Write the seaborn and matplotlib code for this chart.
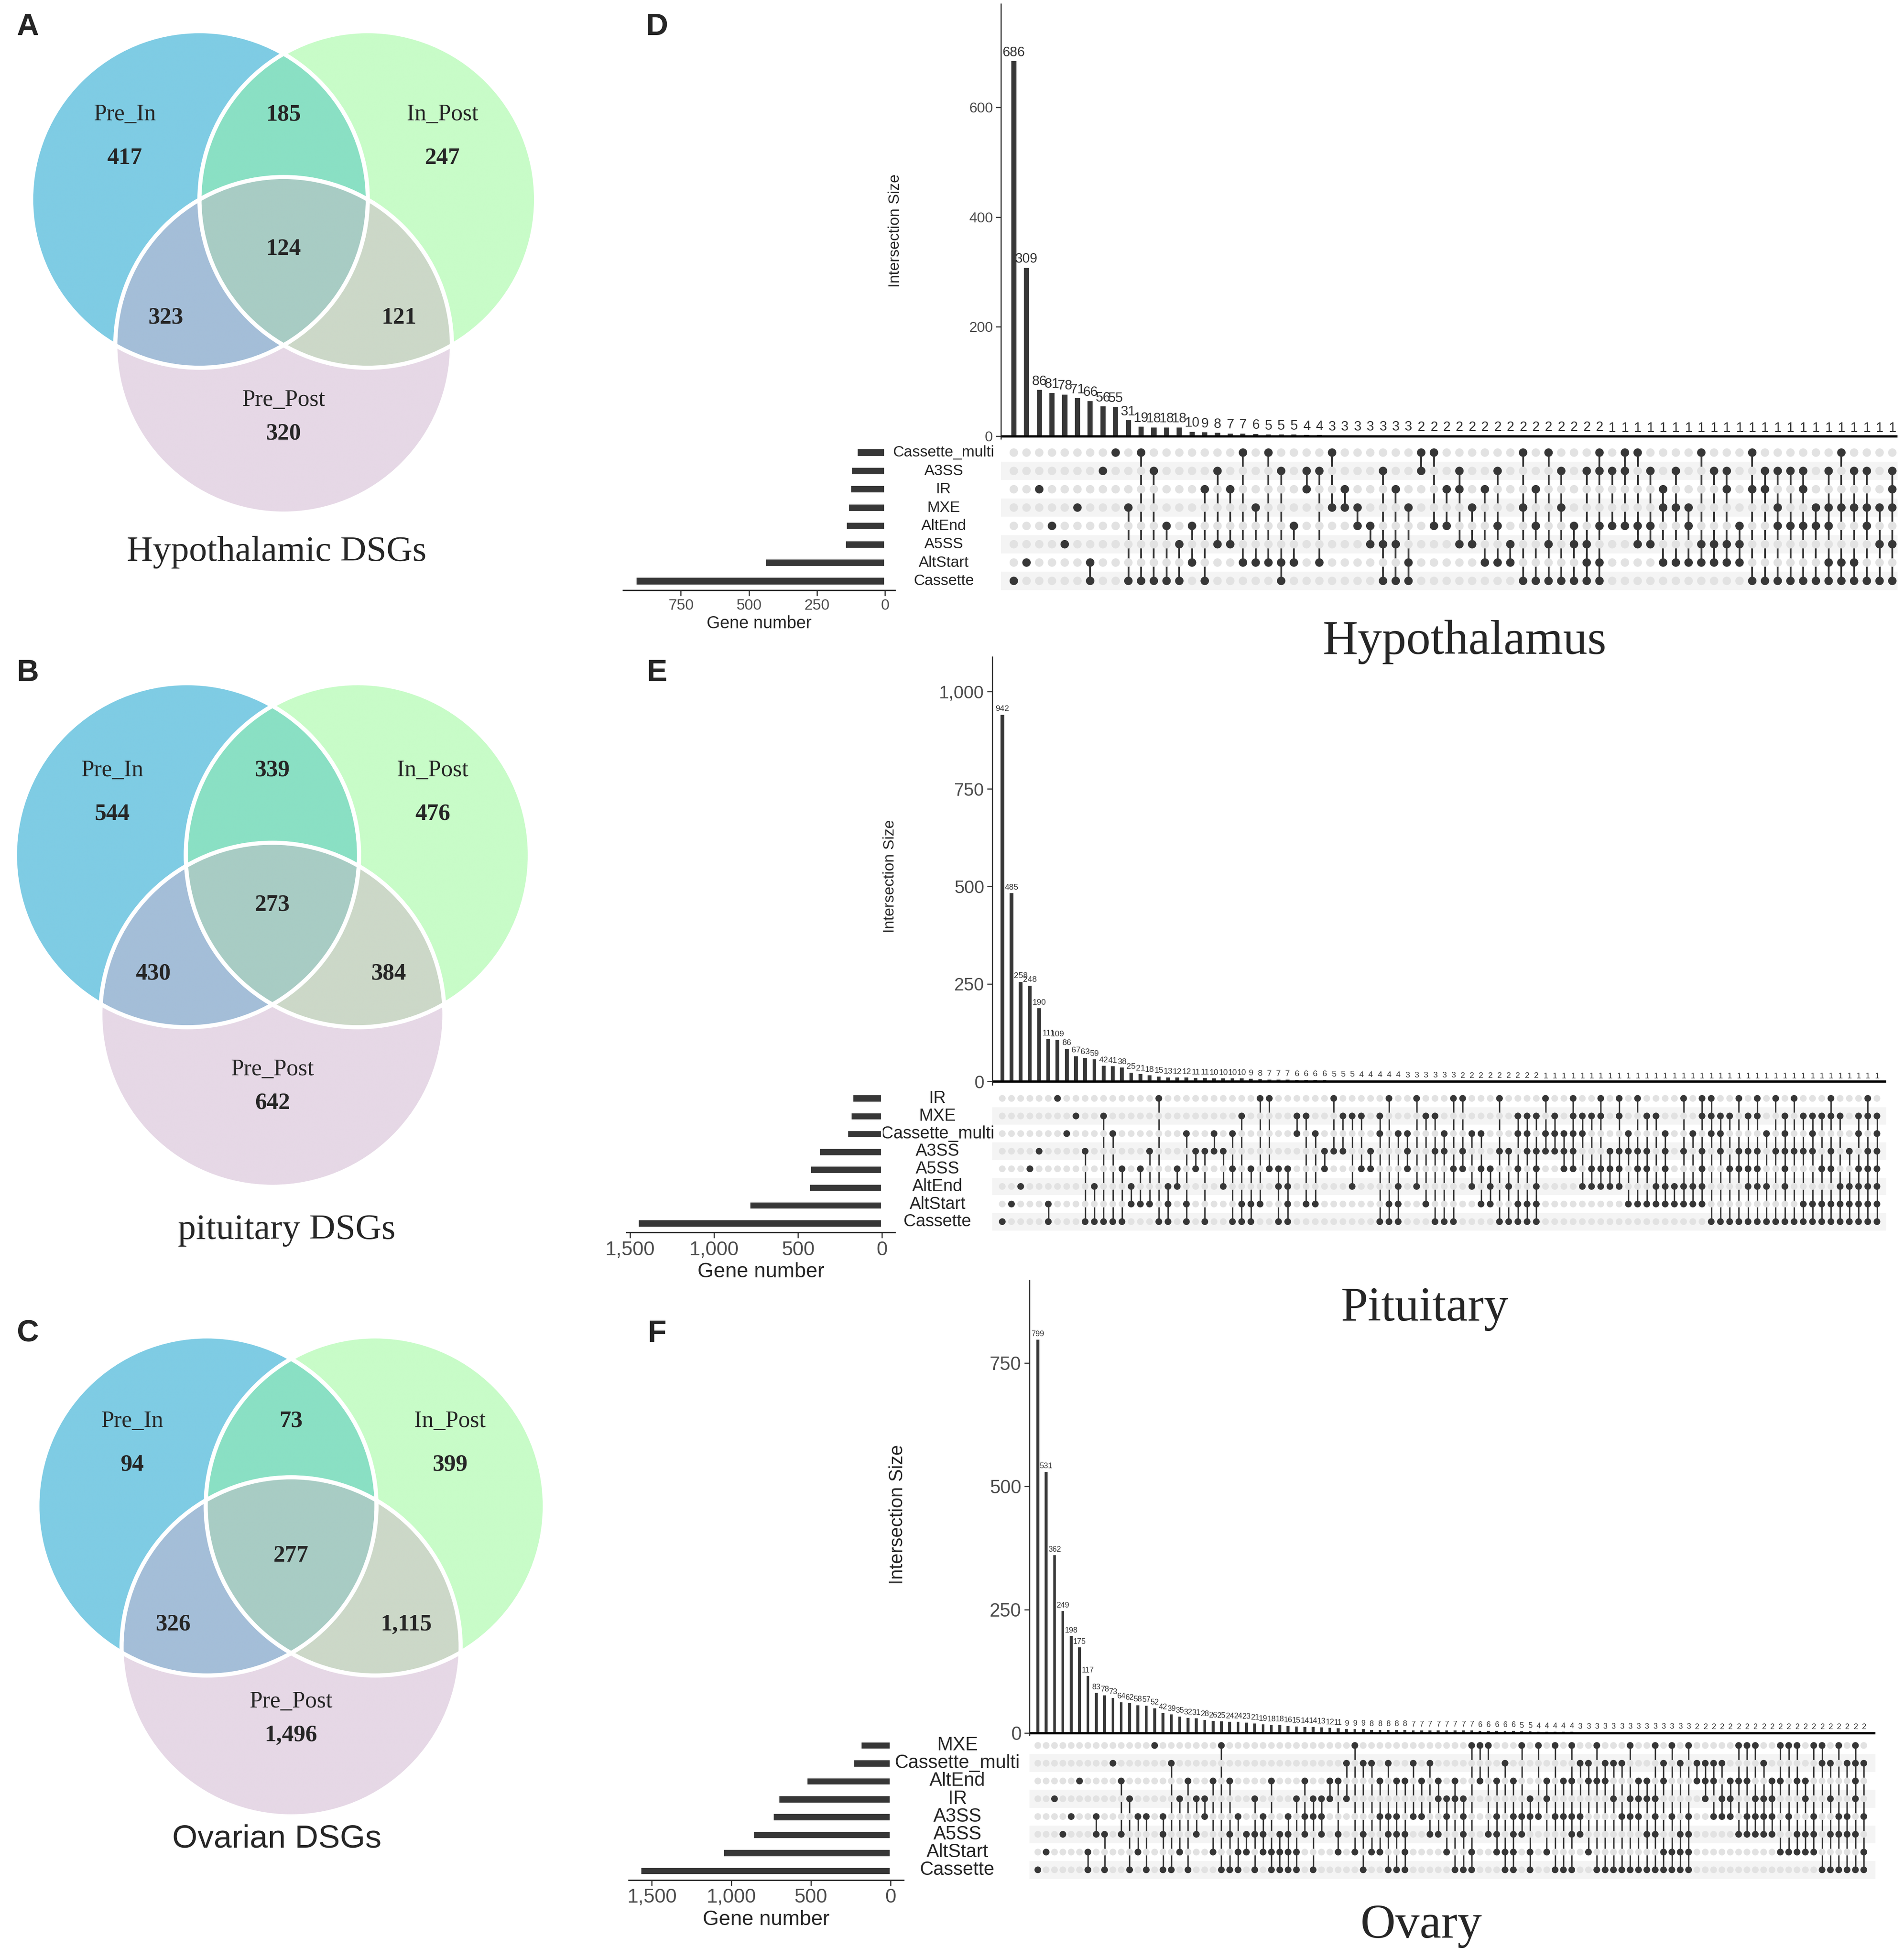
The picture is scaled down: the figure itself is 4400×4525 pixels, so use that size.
import numpy as np
import pandas as pd
import seaborn as sns
import matplotlib.pyplot as plt
from matplotlib.colors import to_rgba
from matplotlib.patches import Circle
from matplotlib.ticker import StrMethodFormatter

sns.set_style('ticks')
plt.rcParams['font.family'] = ['Liberation Sans', 'DejaVu Sans']
SERIF = ['Liberation Serif', 'DejaVu Serif']
NARROW = ['Liberation Sans Narrow', 'Liberation Sans', 'DejaVu Sans']
DARK = '#373737'

# ---------------- Venn data (A only, B only, C only, AB, AC, BC, ABC) ----------------
venn_names = ['Pre_In', 'In_Post', 'Pre_Post']
hyp_venn = [417, 247, 320, 185, 323, 121, 124]
pit_venn = [544, 476, 642, 339, 430, 384, 273]
ova_venn = [94, 399, 1496, 73, 326, 1115, 277]
venn_titles = ['Hypothalamic DSGs', 'pituitary DSGs', 'Ovarian DSGs']
region_colors = ['#7FCCE4', '#C8FCC8', '#E6D8E6', '#8AE0C4', '#A4BED8', '#CCD8C8', '#A8CCC4']

# ---------------- UpSet D: hypothalamus ----------------
d_sets = ['Cassette_multi', 'A3SS', 'IR', 'MXE', 'AltEnd', 'A5SS', 'AltStart', 'Cassette']
d_sizes = [103, 124, 127, 136, 143, 146, 440, 916]
d_counts = [686, 309, 86, 81, 78, 71, 66, 56, 55, 31, 19, 18, 18, 18, 10, 9, 8, 7, 7, 6,
            5, 5, 5, 4, 4, 3, 3, 3, 3, 3, 3, 3, 2, 2, 2, 2, 2, 2, 2, 2, 2, 2, 2, 2, 2, 2, 2,
            1, 1, 1, 1, 1, 1, 1, 1, 1, 1, 1, 1, 1, 1, 1, 1, 1, 1, 1, 1, 1, 1, 1]
d_combos = [[7], [6], [2], [4], [5], [3], [6, 7], [1], [0], [3, 7], [0, 7], [1, 7], [4, 7],
            [5, 7], [4, 6], [2, 7], [1, 5], [2, 5], [0, 6], [3, 6], [0, 6], [1, 6, 7], [4, 6],
            [1, 2], [1, 6], [0, 3], [2, 3], [3, 4], [4, 5], [1, 5, 7], [2, 5, 7], [3, 6, 7],
            [0, 1], [0, 4], [2, 4], [1, 2, 5], [3, 5], [2, 6], [1, 4, 6], [5, 6], [0, 3, 7],
            [2, 4, 7], [0, 5, 7], [1, 3, 7], [4, 5, 7], [1, 5, 6, 7], [0, 1, 4, 6, 7], [1, 4],
            [0, 1, 4], [0, 4, 5], [1, 4, 5], [2, 3, 6], [1, 3, 6], [3, 4, 6], [0, 5, 6],
            [1, 5, 6], [1, 2, 5, 6], [4, 5, 6], [0, 2, 7], [1, 2, 7], [1, 3, 4, 7], [1, 4, 7],
            [1, 2, 4, 7], [3, 4, 7], [1, 3, 4, 6, 7], [0, 3, 6, 7], [1, 3, 6, 7], [1, 3, 4, 7],
            [3, 5, 7], [1, 2, 3, 5, 7]]

# ---------------- UpSet E: pituitary ----------------
e_sets = ['IR', 'MXE', 'Cassette_multi', 'A3SS', 'A5SS', 'AltEnd', 'AltStart', 'Cassette']
e_sizes = [176, 186, 208, 375, 428, 433, 790, 1455]
e_counts = [942, 485, 258, 248, 190, 111, 109, 86, 67, 63, 59, 42, 41, 38, 25, 21, 18, 15,
            13, 12, 12, 11, 11, 10, 10, 10, 10, 9, 8, 7, 7, 7, 6, 6, 6, 6, 5, 5, 5,
            4, 4, 4, 4, 4, 3, 3, 3, 3, 3, 3, 2, 2, 2, 2, 2, 2, 2, 2, 2,
            1, 1, 1, 1, 1, 1, 1, 1, 1, 1, 1, 1, 1, 1, 1, 1, 1, 1, 1, 1, 1, 1, 1, 1, 1, 1,
            1, 1, 1, 1, 1, 1, 1, 1, 1, 1, 1]
# columns in which each set (row) has a filled dot
e_rows = [
    [6, 17, 28, 29, 36, 42, 45, 49, 50, 54, 59, 62, 65, 67, 69, 74, 76, 77, 80, 82, 84, 86, 90, 94],
    [8, 11, 26, 32, 33, 37, 38, 39, 41, 46, 47, 56, 57, 58, 60, 62, 63, 64, 65, 67, 70, 71, 76,
     77, 78, 79, 81, 82, 85, 87, 88, 89, 90, 91, 93, 94, 95],
    [7, 12, 20, 23, 25, 32, 34, 41, 43, 44, 48, 51, 52, 56, 57, 59, 60, 61, 62, 63, 68, 72, 75,
     77, 78, 83, 85, 88, 93, 95],
    [4, 9, 16, 21, 22, 23, 24, 35, 36, 37, 40, 44, 47, 48, 50, 54, 55, 57, 58, 59, 60, 61, 62,
     66, 67, 68, 69, 70, 72, 74, 76, 78, 80, 81, 82, 84, 85, 86, 87, 88, 90, 92, 94, 95],
    [3, 13, 15, 19, 21, 25, 27, 29, 30, 31, 35, 39, 40, 44, 49, 50, 52, 53, 56, 58, 61, 62, 64,
     65, 66, 67, 69, 70, 72, 76, 79, 80, 81, 82, 85, 89, 90, 93, 94, 95],
    [2, 10, 14, 18, 19, 24, 30, 31, 38, 43, 45, 51, 53, 55, 58, 63, 64, 65, 66, 67, 71, 72, 73,
     74, 75, 76, 81, 82, 83, 85, 91, 92, 93, 94, 95],
    [1, 5, 14, 15, 16, 18, 20, 26, 27, 28, 31, 33, 34, 42, 43, 46, 52, 53, 56, 57, 58, 68, 69,
     70, 71, 72, 73, 74, 75, 76, 87, 88, 89, 90, 91, 92, 93, 94, 95],
    [0, 5, 9, 10, 11, 12, 13, 17, 18, 20, 22, 25, 26, 27, 30, 31, 41, 42, 43, 47, 48, 49, 54,
     55, 56, 57, 58, 77, 78, 79, 80, 81, 82, 83, 84, 85, 86, 87, 88, 89, 90, 91, 92, 93, 94, 95],
]
e_combos = [[i for i, r in enumerate(e_rows) if j in r] for j in range(len(e_counts))]

# ---------------- UpSet F: ovary ----------------
f_sets = ['MXE', 'Cassette_multi', 'AltEnd', 'IR', 'A3SS', 'A5SS', 'AltStart', 'Cassette']
f_sizes = [187, 233, 527, 705, 738, 863, 1053, 1572]
f_counts = [799, 531, 362, 249, 198, 175, 117, 83, 78, 73, 64, 62, 58, 57, 52, 42, 39, 35, 32,
            31, 28, 26, 25, 24, 24, 23, 21, 19, 18, 18, 16, 15, 14, 14, 13, 12, 11, 9, 9, 9,
            8, 8, 8, 8, 8, 7, 7, 7, 7, 7, 7, 7, 7, 6, 6, 6, 6, 6, 5, 5, 4, 4, 4, 4, 4,
            3, 3, 3, 3, 3, 3, 3, 3, 3, 3, 3, 3, 3, 3,
            2, 2, 2, 2, 2, 2, 2, 2, 2, 2, 2, 2, 2, 2, 2, 2, 2, 2, 2, 2, 2]
f_combos = [[7], [6], [3], [5], [4], [2], [6, 7], [4, 5], [5, 7], [1], [2, 5], [3, 7], [4, 6],
            [4, 7], [0], [4, 5, 7], [1, 7], [3, 6], [2, 7], [3, 5], [3, 4], [2, 6], [0, 7],
            [2, 5, 7], [4, 6, 7], [5, 6], [3, 5, 7], [4, 5, 6], [2, 6, 7], [5, 6, 7],
            [4, 5, 6, 7], [3, 6, 7], [2, 4, 5], [3, 4, 7], [3, 4, 5], [2, 3], [2, 5, 6],
            [1, 3], [0, 6], [1, 5, 7], [1, 6], [2, 4, 6], [1, 4, 5, 7], [2, 4, 5, 7],
            [2, 5, 6, 7], [1, 4], [2, 4], [1, 5], [2, 3, 5], [3, 4, 6], [2, 3, 7],
            [3, 4, 5, 7], [0, 6, 7], [0, 2], [0, 5], [2, 4, 5, 6], [1, 6, 7], [2, 4, 5, 6, 7],
            [0, 4, 5], [3, 4, 6, 7], [0, 4], [2, 3, 6], [0, 4, 7], [2, 4, 7], [0, 2, 4, 5, 7],
            [1, 4, 5], [1, 2, 6], [0, 2, 7], [1, 2, 7], [1, 3, 7], [1, 4, 7], [0, 3, 4, 7],
            [2, 3, 4, 7], [2, 3, 5, 7], [0, 3, 4, 5, 7], [1, 2, 6, 7], [0, 4, 6, 7],
            [1, 5, 6, 7], [0, 4, 5, 6, 7], [1, 2], [1, 2, 3], [1, 2, 4], [1, 3, 4], [2, 3, 4],
            [0, 2, 5], [0, 2, 4, 5], [0, 3, 4, 5], [1, 3, 4, 5], [2, 3, 4, 5], [0, 2, 6],
            [0, 4, 6], [0, 2, 5, 6], [2, 3, 5, 6], [0, 4, 5, 6], [0, 1, 7], [1, 3, 5, 7],
            [0, 4, 5, 7], [1, 4, 5, 7], [0, 1, 2, 3, 5, 7], [1, 4, 6, 7]]

# ---------------- figure ----------------
W, H = 1527.3, 1570.6   # layout units (reference pixels / 2.881)
fig = plt.figure(figsize=(4400 / 300, 4525 / 300), dpi=300)
bg = fig.add_axes([0, 0, 1, 1])
bg.set_axis_off()


def box(x0, y0, x1, y1):
    ax = fig.add_axes([x0 / W, 1 - y1 / H, (x1 - x0) / W, (y1 - y0) / H])
    ax.set_facecolor('none')
    return ax


def fmt(v):
    return f'{v:,}'


def draw_venn(counts, centers, r, title, title_xy, title_family, title_size):
    (ax_, ay), (bx, by), (cx, cy) = centers
    x0, x1 = min(ax_, cx) - r - 3, max(bx, cx) + r + 3
    y0, y1 = min(ay, by) - r - 3, cy + r + 3
    gx, gy = np.meshgrid(np.linspace(x0, x1, 1400), np.linspace(y0, y1, 1400))
    ina = (gx - ax_) ** 2 + (gy - ay) ** 2 <= r * r
    inb = (gx - bx) ** 2 + (gy - by) ** 2 <= r * r
    inc = (gx - cx) ** 2 + (gy - cy) ** 2 <= r * r
    masks = [ina & ~inb & ~inc, inb & ~ina & ~inc, inc & ~ina & ~inb,
             ina & inb & ~inc, ina & inc & ~inb, inb & inc & ~ina, ina & inb & inc]
    img = np.zeros(gx.shape + (4,))
    for m, col in zip(masks, region_colors):
        img[m] = to_rgba(col)
    bg.imshow(img, extent=(x0, x1, y1, y0), origin='upper', aspect='auto', zorder=1)
    for (px, py) in centers:
        bg.add_patch(Circle((px, py), r, fill=False, ec='white', lw=2.3, zorder=2))
    num = dict(family=SERIF, fontweight='bold', fontsize=13, ha='center', va='center', zorder=3)
    nam = dict(family=SERIF, fontsize=13, ha='center', va='center', zorder=3)
    bg.text(ax_ - 60, ay - 68, venn_names[0], **nam)
    bg.text(ax_ - 60, ay - 33, fmt(counts[0]), **num)
    bg.text(bx + 60, by - 68, venn_names[1], **nam)
    bg.text(bx + 60, by - 33, fmt(counts[1]), **num)
    bg.text(cx, cy + 44, venn_names[2], **nam)
    bg.text(cx, cy + 71, fmt(counts[2]), **num)
    bg.text((ax_ + bx) / 2, ay - 68, fmt(counts[3]), **num)
    bg.text(ax_ - 27, ay + 95, fmt(counts[4]), **num)
    bg.text(bx + 25, by + 95, fmt(counts[5]), **num)
    bg.text((ax_ + bx) / 2, ay + 40, fmt(counts[6]), **num)
    bg.text(*title_xy, title, family=title_family, fontsize=title_size,
            ha='center', va='center', zorder=3)


draw_venn(hyp_venn, [(160, 160), (295, 160), (227.5, 277)], 135,
          venn_titles[0], (222, 443), SERIF, 20)
draw_venn(pit_venn, [(150, 686), (287, 686), (218.5, 814)], 138,
          venn_titles[1], (230, 987), SERIF, 20)
draw_venn(ova_venn, [(166, 1208), (301, 1208), (233.5, 1321)], 136,
          venn_titles[2], (222, 1475), ['Liberation Sans', 'DejaVu Sans'], 18)


def draw_upset(sets, sizes, counts, combos, lay):
    n = len(counts)
    # intersection size bars
    ax = box(*lay['bars'])
    bdf = pd.DataFrame({'combo': np.arange(n), 'size': counts})
    sns.barplot(data=bdf, x='combo', y='size', color=DARK, saturation=1,
                width=lay['bw'], ax=ax)
    ax.bar_label(ax.containers[0], labels=[str(c) for c in counts],
                 fontsize=lay['lab_fs'], padding=0.6, family=NARROW, color='#333333')
    ax.set_xlim(lay['xlim'])
    ax.set_ylim(lay['ylim'])
    ax.set_xticks([])
    ax.set_yticks(lay['yticks'])
    ax.yaxis.set_major_formatter(StrMethodFormatter('{x:,.0f}'))
    ax.tick_params(axis='y', length=3, width=0.6, labelsize=lay['tick_fs'], pad=1.5,
                   colors='#333333', labelcolor='#4D4D4D')
    ax.set_xlabel('')
    ax.set_ylabel('')
    for s in ['top', 'right', 'bottom']:
        ax.spines[s].set_visible(False)
    ax.spines['left'].set_linewidth(0.6)
    ax.axhline(0, color='black', lw=1.3)

    # membership matrix
    axm = box(*lay['matrix'])
    mdf = pd.DataFrame([(j, i, i in combo) for j, combo in enumerate(combos)
                        for i in range(len(sets))], columns=['combo', 'set', 'member'])
    for i in range(1, len(sets), 2):
        axm.axhspan(i - 0.5, i + 0.5, color='#F4F4F4', lw=0, zorder=0)
    for j, combo in enumerate(combos):
        if len(combo) > 1:
            axm.vlines(j, min(combo), max(combo), color=DARK, lw=lay['lw'], zorder=2)
    sns.scatterplot(data=mdf, x='combo', y='set', hue='member',
                    palette={False: '#E2E2E2', True: DARK}, s=lay['dot'], linewidth=0,
                    legend=False, ax=axm, zorder=3)
    axm.set_xlim(lay['xlim'])
    axm.set_ylim(len(sets) - 0.5, -0.5)
    axm.axis('off')

    # set size bars
    axs = box(*lay['sets'])
    sdf = pd.DataFrame({'set': sets, 'size': sizes})
    sns.barplot(data=sdf, x='size', y='set', orient='h', color=DARK, saturation=1,
                width=0.45, ax=axs)
    axs.set_xlim(lay['set_xlim'])
    axs.set_ylim(len(sets) - 0.5, -0.5)
    axs.set_xticks(lay['set_ticks'])
    axs.xaxis.set_major_formatter(StrMethodFormatter('{x:,.0f}'))
    axs.set_yticks([])
    axs.set_ylabel('')
    axs.set_xlabel('Gene number', fontsize=lay['gn_fs'], labelpad=1.5)
    for s in ['top', 'right', 'left']:
        axs.spines[s].set_visible(False)
    axs.spines['bottom'].set_linewidth(0.8)
    axs.tick_params(axis='x', length=3, width=0.6, labelsize=lay['st_fs'], pad=1.5,
                    labelcolor='#4D4D4D')

    # set names between set bars and matrix
    mx0, my0, mx1, my1 = lay['matrix']
    rh = (my1 - my0) / len(sets)
    for i, name in enumerate(sets):
        bg.text(lay['name_x'], my0 + (i + 0.5) * rh, name, fontsize=lay['name_fs'],
                ha='center', va='center', zorder=3)

    bg.text(lay['ylab'][0], lay['ylab'][1], 'Intersection Size', rotation=90,
            fontsize=lay['ylab_fs'], ha='center', va='center', zorder=3)
    bg.text(*lay['title_xy'], lay['title'], family=SERIF, fontsize=27,
            ha='center', va='center', zorder=3)


layout_d = dict(bars=(803, 3, 1522, 352), matrix=(803, 355.7, 1522, 473.3),
                sets=(500, 355.7, 718, 473.5), xlim=(-1.0, 69.4), ylim=(-4.5, 789),
                yticks=[0, 200, 400, 600], bw=0.55, lab_fs=7.5, tick_fs=8, dot=22, lw=1.0,
                set_xlim=(961, -37), set_ticks=[750, 500, 250, 0], gn_fs=9.5, st_fs=8.5,
                name_x=757, name_fs=8.5, ylab=(718, 185), ylab_fs=8.5,
                title='Hypothalamus', title_xy=(1175, 515))
layout_e = dict(bars=(796, 527, 1513, 870), matrix=(796, 874, 1513, 987),
                sets=(502.5, 874, 718, 988.5), xlim=(-1.08, 96.0), ylim=(-8, 1088),
                yticks=[0, 250, 500, 750, 1000], bw=0.6, lab_fs=4.6, tick_fs=10, dot=14, lw=0.8,
                set_xlim=(1522, -78), set_ticks=[1500, 1000, 500, 0], gn_fs=11.5, st_fs=11,
                name_x=752, name_fs=9.5, ylab=(714, 703), ylab_fs=8.5,
                title='Pituitary', title_xy=(1143, 1050))
layout_f = dict(bars=(825.8, 1027, 1504.4, 1392), matrix=(825.8, 1393, 1504.4, 1507),
                sets=(504.4, 1393, 724.8, 1508), xlim=(-1.0, 100.4), ylim=(-5, 918),
                yticks=[0, 250, 500, 750], bw=0.55, lab_fs=4.3, tick_fs=10.5, dot=14, lw=0.8,
                set_xlim=(1645, -83), set_ticks=[1500, 1000, 500, 0], gn_fs=11.5, st_fs=11,
                name_x=768, name_fs=10.5, ylab=(720, 1215), ylab_fs=10.5,
                title='Ovary', title_xy=(1140, 1545))

draw_upset(d_sets, d_sizes, d_counts, d_combos, layout_d)
draw_upset(e_sets, e_sizes, e_counts, e_combos, layout_e)
draw_upset(f_sets, f_sizes, f_counts, f_combos, layout_f)

# panel letters
for letter, xy in zip('ABCDEF', [(22, 22), (22, 540), (22, 1070),
                                  (527, 22), (527, 540), (527, 1070)]):
    bg.text(*xy, letter, fontsize=17, fontweight='bold', ha='center', va='center', zorder=3)

bg.set_xlim(0, W)
bg.set_ylim(H, 0)

fig.savefig('out.png', dpi=300)
